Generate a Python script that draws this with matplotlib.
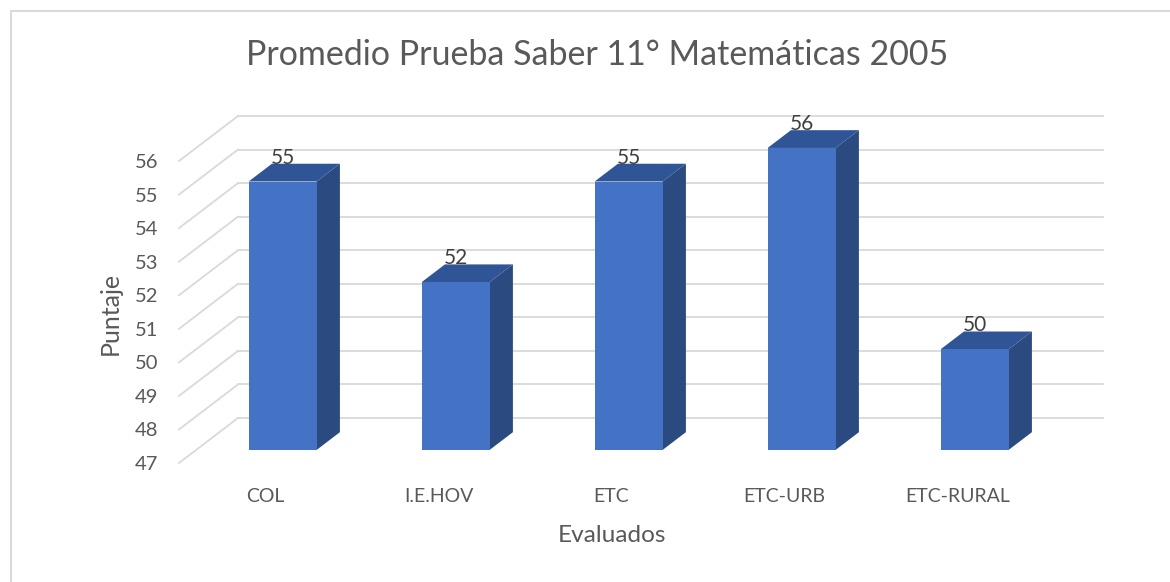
import matplotlib
matplotlib.use("Agg")
import matplotlib.pyplot as plt
from matplotlib.lines import Line2D
from matplotlib.patches import Polygon

# data
categories = ["COL", "I.E.HOV", "ETC", "ETC-URB", "ETC-RURAL"]
scores = [55, 52, 55, 56, 50]
y_ticks = list(range(47, 57))

title = "Promedio Prueba Saber 11° Matemáticas 2005"
x_label = "Evaluados"
y_label = "Puntaje"

FRONT = "#4472C4"
TOP = "#2F5597"
SIDE = "#2A4A80"
GRID = "#D9D9D9"
TEXT = "#595959"

plt.rcParams["font.family"] = ["Lato", "DejaVu Sans"]

W, H = 1170, 582
fig = plt.figure(figsize=(W / 100, H / 100), dpi=100)

# front plane of the pseudo-3d box, in pixels
left, right, top, bottom = 179, 1044, 161, 463
ax = fig.add_axes([left / W, 1 - bottom / H, (right - left) / W, (bottom - top) / H])
ax.set_xlim(-0.5, len(categories) - 0.5)
ax.set_ylim(y_ticks[0], y_ticks[-1])

# depth vector (full depth), converted from pixels to data units
px_x = (right - left) / len(categories)
px_y = (bottom - top) / (y_ticks[-1] - y_ticks[0])
ox, oy = 59 / px_x, 45 / px_y


def at(x, y, d):
    return (x + d * ox, y + d * oy)


# gridlines: slanted side wall + back wall
x0, x1 = ax.get_xlim()
for v in y_ticks:
    ax.add_line(Line2D(*zip(at(x0, v, 0), at(x0, v, 1)), color=GRID, lw=1.3, clip_on=False, zorder=1))
    ax.add_line(Line2D(*zip(at(x0, v, 1), at(x1, v, 1)), color=GRID, lw=1.3, clip_on=False, zorder=1))

# bars
d0, d1 = 0.29, 0.685
bw = 0.393
base = y_ticks[0]
for i, v in enumerate(scores):
    xl, xr = i - bw / 2, i + bw / 2
    front = [at(xl, base, d0), at(xr, base, d0), at(xr, v, d0), at(xl, v, d0)]
    side = [at(xr, base, d0), at(xr, base, d1), at(xr, v, d1), at(xr, v, d0)]
    lid = [at(xl, v, d0), at(xr, v, d0), at(xr, v, d1), at(xl, v, d1)]
    ax.add_patch(Polygon(side, closed=True, fc=SIDE, ec="none", clip_on=False, zorder=3))
    ax.add_patch(Polygon(lid, closed=True, fc=TOP, ec="none", clip_on=False, zorder=3))
    ax.add_patch(Polygon(front, closed=True, fc=FRONT, ec="none", clip_on=False, zorder=4))
    ax.annotate(str(v), xy=at(i, v, d0), xytext=(0, 24), textcoords="offset pixels",
                ha="center", va="center", fontsize=15, color="#404040", zorder=5,
                annotation_clip=False)

ax.set_xticks(range(len(categories)))
ax.set_xticklabels(categories)
ax.set_yticks(y_ticks)
ax.tick_params(axis="x", length=0, pad=18, labelsize=14, labelcolor=TEXT)
ax.tick_params(axis="y", length=0, pad=15, labelsize=14.5, labelcolor=TEXT)
for s in ax.spines.values():
    s.set_visible(False)
ax.patch.set_visible(False)

fig.text(597 / W, 1 - 55 / H, title, ha="center", va="center", fontsize=24.5, color=TEXT)
fig.text(612 / W, 1 - 535 / H, x_label, ha="center", va="center", fontsize=17.6, color=TEXT)
fig.text(110 / W, 1 - 313 / H, y_label, ha="center", va="center", rotation=90, fontsize=18, color=TEXT)

# chart border (only top and left are inside the crop)
fig.add_artist(Line2D([11 / W, 11 / W, 1.0], [0.0, 1 - 11 / H, 1 - 11 / H], color=GRID, lw=1.5))

fig.savefig("out.png", dpi=100, facecolor="white")
